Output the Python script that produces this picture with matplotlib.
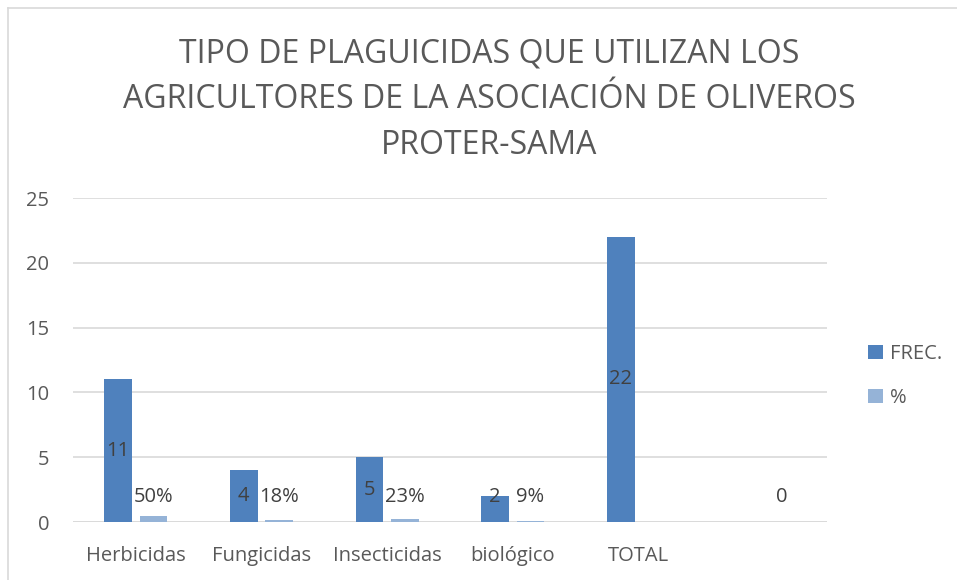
import matplotlib
matplotlib.use("Agg")
import matplotlib.pyplot as plt
import numpy as np
from matplotlib.lines import Line2D

plt.rcParams["font.family"] = ["Open Sans", "DejaVu Sans"]

categories = ["Herbicidas", "Fungicidas", "Insecticidas", "biológico", "TOTAL", ""]
frec = [11, 4, 5, 2, 22, np.nan]
pct = [0.50, 0.18, 0.23, 0.09, np.nan, 0.0]
frec_labels = ["11", "4", "5", "2", "22", ""]
pct_labels = ["50%", "18%", "23%", "9%", "", "0"]

title = ("TIPO DE PLAGUICIDAS QUE UTILIZAN LOS\n"
         "AGRICULTORES DE LA ASOCIACIÓN DE OLIVEROS\n"
         "PROTER-SAMA")

C_FREC = "#4F81BD"
C_PCT = "#95B3D7"
TXT = "#595959"
LBL = "#404040"
GRID = "#D9D9D9"

fig = plt.figure(figsize=(9.57, 5.8), dpi=100)
ax = fig.add_axes([73 / 957, 1 - 522 / 580, 754 / 957, 324 / 580])

x = np.arange(len(categories))
w = 0.22
off = 0.141
ax.bar(x - off, frec, w, color=C_FREC, label="FREC.", zorder=3)
ax.bar(x + off, pct, w, color=C_PCT, label="%", zorder=3)

# data labels
for xi, v, s in zip(x, frec, frec_labels):
    if s:
        ax.text(xi - off, max(v / 2, 1.9), s, ha="center", va="center",
                fontsize=14.5, color=LBL, zorder=4)
for xi, v, s in zip(x, pct, pct_labels):
    if s:
        ax.text(xi + off, 1.9, s, ha="center", va="center",
                fontsize=14.5, color=LBL, zorder=4)

ax.set_xlim(-0.5, len(categories) - 0.5)
ax.set_ylim(0, 25)
ax.set_yticks(range(0, 26, 5))
ax.set_xticks(x)
ax.set_xticklabels(categories)
ax.tick_params(axis="both", length=0, labelsize=14.5, labelcolor=TXT)
ax.tick_params(axis="x", pad=17)
ax.tick_params(axis="y", pad=17)
ax.grid(axis="y", color=GRID, linewidth=1.2, zorder=0)
for sp in ax.spines.values():
    sp.set_visible(False)
ax.axhline(0, color=GRID, linewidth=1.2, zorder=2)

fig.text(489 / 957, 1 - 100 / 580, title, ha="center", va="center", fontsize=23,
         color=TXT, linespacing=1.5)

ax.legend(loc="center left", bbox_to_anchor=(858 / 957, 1 - 376 / 580),
          bbox_transform=fig.transFigure, frameon=False, fontsize=14.5,
          labelcolor=TXT, handlelength=0.75, handleheight=0.75,
          handletextpad=0.35, labelspacing=1.2, borderpad=0)

# chart area border (only top and left visible in the crop)
fig.add_artist(Line2D([8 / 957, 1], [1 - 8 / 580, 1 - 8 / 580],
                      transform=fig.transFigure, color="#D9D9D9", lw=1.2))
fig.add_artist(Line2D([8 / 957, 8 / 957], [0, 1 - 8 / 580],
                      transform=fig.transFigure, color="#D9D9D9", lw=1.2))

fig.savefig("out.png", dpi=100, facecolor="white")
